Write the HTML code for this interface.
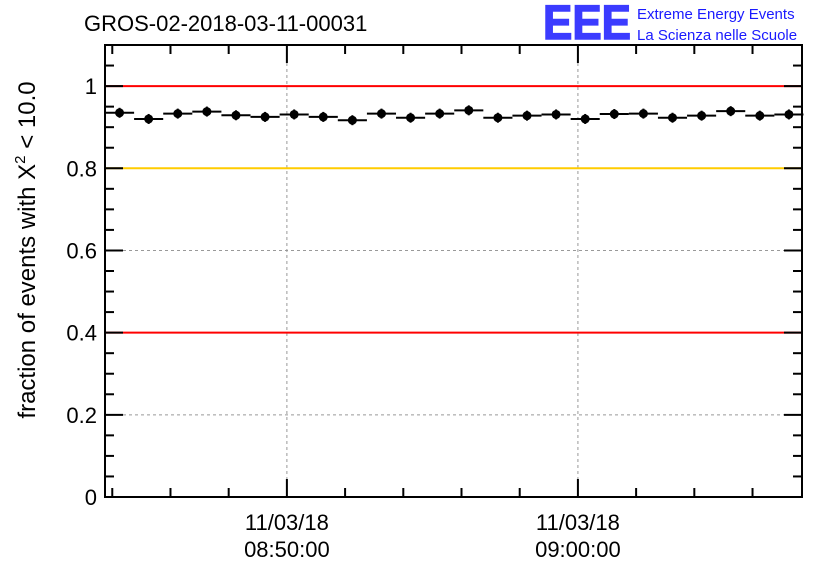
<!DOCTYPE html>
<html><head><meta charset="utf-8"><style>
body{margin:0;background:#fff}
svg{display:block;font-family:"Liberation Sans",sans-serif}
</style></head><body>
<svg id="c" width="836" height="572">
<text x="84" y="31" font-size="22">GROS-02-2018-03-11-00031</text>
<g>
<text x="543" y="39" font-size="48" font-weight="bold" fill="#1a1aff" stroke="#1a1aff" stroke-width="1.5" opacity="0.85" textLength="88" lengthAdjust="spacingAndGlyphs">EEE</text>
<text x="637" y="19" font-size="15" fill="#1a1aff">Extreme Energy Events</text>
<text x="637" y="40" font-size="15" fill="#1a1aff">La Scienza nelle Scuole</text>
</g>
<text transform="translate(35,250) rotate(-90)" text-anchor="middle" font-size="24">fraction of events with X<tspan dy="-10" font-size="15">2</tspan><tspan dy="10"> &lt; 10.0</tspan></text>
<g id="g"></g>
</svg>
<script>
const values=[0.935,0.920,0.933,0.938,0.929,0.925,0.931,0.925,0.917,0.933,0.923,0.933,0.941,0.923,0.928,0.931,0.920,0.932,0.933,0.923,0.928,0.939,0.928,0.931];
const yTicks=[0,0.2,0.4,0.6,0.8,1];
const yTickLabels=["0","0.2","0.4","0.6","0.8","1"];
const xTicks=[6.25,16.25];
const xTickLabels=[["11/03/18","08:50:00"],["11/03/18","09:00:00"]];
const refLines=[{v:1,c:"#f00"},{v:0.8,c:"#fc0"},{v:0.4,c:"#f00"}];
const L=105,R=802,T=45,B=497,xMin=0,xMax=23.95,yMin=0,yMax=1.1;
const X=t=>L+(t-xMin)/(xMax-xMin)*(R-L);
const Y=v=>B-(v-yMin)/(yMax-yMin)*(B-T);
const g=document.getElementById('g');const NS='http://www.w3.org/2000/svg';
function mk(tag,a,p){const e=document.createElementNS(NS,tag);for(const k in a)e.setAttribute(k,a[k]);(p||g).appendChild(e);return e;}
[0.2,0.6].forEach(v=>{const e=mk('line',{x1:L,x2:R,y1:Y(v),y2:Y(v),stroke:'#999','stroke-dasharray':'3,3'});

});
xTicks.forEach(t=>{const e=mk('line',{x1:X(t),x2:X(t),y1:T,y2:B,stroke:'#999','stroke-dasharray':'3,3'});

});
refLines.forEach(r=>{const e=mk('line',{x1:L,x2:R,y1:Y(r.v),y2:Y(r.v),stroke:r.c,'stroke-width':2});

});
for(let i=0;i<=22;i++){const v=i*0.05,y=Y(v),big=(i%4==0);const len=big?18:9;
mk('line',{x1:L,x2:L+len,y1:y,y2:y,stroke:'#000','stroke-width':2});
mk('line',{x1:R,x2:R-len,y1:y,y2:y,stroke:'#000','stroke-width':2});}
for(let k=-3;k<=8;k++){const t=6.25+k*2;if(t<xMin||t>xMax)continue;const x=X(t);const big=(k%5==0);const len=big?18:9;
mk('line',{x1:x,x2:x,y1:B,y2:B-len,stroke:'#000','stroke-width':2});
mk('line',{x1:x,x2:x,y1:T,y2:T+len,stroke:'#000','stroke-width':2});}
yTicks.forEach((v,i)=>{const e=mk('text',{x:L-8,y:Y(v)+8,'text-anchor':'end','font-size':22});e.textContent=yTickLabels[i];

});
xTicks.forEach((t,i)=>{xTickLabels[i].forEach((s,j)=>{const e=mk('text',{x:X(t),y:530+j*27,'text-anchor':'middle','font-size':22});e.textContent=s;

});});
values.forEach((v,i)=>{const t=i+0.5,x=X(t),y=Y(v);
mk('line',{x1:X(t-0.5),x2:X(t+0.5),y1:y,y2:y,stroke:'#000','stroke-width':2});
mk('line',{x1:x,x2:x,y1:y-5,y2:y+5,stroke:'#000','stroke-width':2});
const c=mk('circle',{cx:x,cy:y,r:4.5,fill:'#000'});

});
const f=mk('rect',{x:L,y:T,width:R-L,height:B-T,fill:'none',stroke:'#000','stroke-width':2});


</script>
</body></html>
